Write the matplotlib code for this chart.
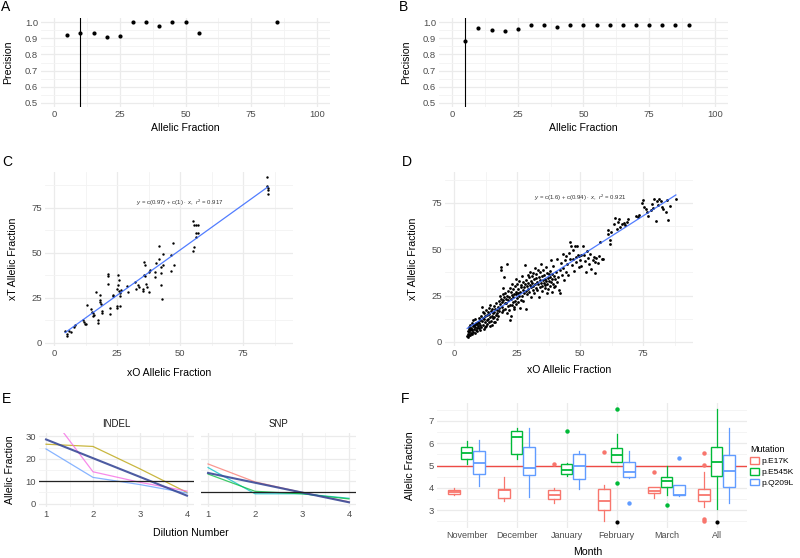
import numpy as np
import matplotlib
matplotlib.use('Agg')
import matplotlib.pyplot as plt
from matplotlib.ticker import MultipleLocator
from matplotlib.patches import Patch

plt.rcParams['font.family'] = ['Liberation Sans', 'DejaVu Sans']
plt.rcParams['mathtext.fontset'] = 'custom'
plt.rcParams['mathtext.rm'] = 'Liberation Sans'
plt.rcParams['mathtext.it'] = 'Liberation Sans:italic'

# ---- panel A / B : precision by allelic fraction
a_af = [5, 10, 15, 20, 25, 30, 35, 40, 45, 50, 55, 85]
a_prec = [0.920, 0.930, 0.935, 0.905, 0.912, 1.0, 1.0, 0.977, 1.0, 1.0, 0.930, 1.0]
a_cut = 10

b_af = [5, 10, 15, 20, 25, 30, 35, 40, 45, 50, 55, 60, 65, 70, 75, 80, 85, 90]
b_prec = [0.885, 0.965, 0.953, 0.945, 0.958, 0.982, 0.982, 0.972, 0.980, 0.980,
          0.982, 0.980, 0.980, 0.982, 0.980, 0.980, 0.980, 0.980]
b_cut = 5

# ---- panel C : xO vs xT
c_xo = [4.4, 5.0, 5.0, 5.9, 6.6, 7.9, 8.2, 11.6, 11.9, 12.3,
        12.7, 13.2, 14.5, 14.9, 15.3, 15.6, 15.9, 16.6, 17.3, 17.3,
        18.2, 18.2, 18.2, 18.5, 19.2, 19.2, 21.3, 21.3, 21.5, 22.2,
        22.2, 23.2, 23.5, 24.8, 24.8, 25.1, 25.4, 25.5, 25.6, 25.9,
        26.2, 26.2, 26.2, 26.4, 29.1, 29.5, 32.1, 32.5, 33.4, 33.8,
        35.1, 35.4, 35.7, 36.1, 35.7, 36.2, 36.5, 36.7, 37.8, 37.8,
        38.0, 40.0, 40.2, 40.4, 41.8, 41.8, 42.3, 42.3, 42.4, 42.7,
        43.3, 43.3, 46.2, 46.2, 47.3, 47.6, 55.2, 55.5, 55.5, 55.2,
        56.5, 57.3, 56.5, 57.3, 56.5, 84.3, 84.3, 84.7, 84.9, 84.9]
c_xt = [6.5, 5.2, 3.7, 6.5, 5.9, 8.9, 10.0, 12.6, 11.5, 10.7,
        10.7, 20.9, 18.9, 17.0, 16.7, 14.8, 15.4, 28.1, 13.0, 11.1,
        26.9, 24.1, 22.8, 21.9, 17.6, 16.7, 38.5, 37.0, 32.8, 19.4,
        16.3, 26.9, 25.9, 30.0, 20.7, 19.4, 32.4, 38.0, 35.2, 28.7,
        27.8, 25.9, 20.7, 29.6, 31.5, 28.1, 33.9, 30.0, 32.4, 31.1,
        28.7, 30.0, 44.8, 43.3, 38.0, 37.0, 33.0, 30.9, 28.3, 39.3,
        40.4, 36.7, 39.3, 44.4, 53.7, 46.9, 38.9, 42.0, 32.0, 24.4,
        49.6, 43.5, 49.1, 40.2, 55.6, 43.3, 67.6, 65.7, 53.1, 50.9,
        65.7, 65.7, 61.1, 61.1, 58.9, 92.2, 87.4, 86.1, 85.2, 83.0]
c_eq = r'$y$ = c(0.97) + c(1) $\cdot$ $x$,  $r^2$ = 0.917'

# ---- panel D : xO vs xT, all samples
d_xo = [5.2, 5.4, 5.5, 5.6, 5.8, 6.0, 6.1, 6.3, 6.4, 6.5,
        6.7, 6.8, 7.0, 7.1, 7.3, 7.4, 7.6, 7.7, 7.9, 8.0,
        8.2, 8.3, 8.5, 8.6, 8.8, 8.9, 9.1, 9.2, 9.4, 9.5,
        9.7, 9.8, 10.0, 10.1, 10.3, 10.4, 5.9, 6.9, 7.8, 8.7,
        10.6, 10.8, 11.0, 11.2, 11.3, 11.5, 11.7, 11.9, 12.0, 12.2,
        12.4, 12.5, 12.7, 12.9, 13.0, 13.2, 13.4, 13.5, 13.7, 13.9,
        14.0, 14.2, 14.4, 14.5, 14.7, 14.9, 15.0, 15.2, 15.4, 15.5,
        15.7, 15.9, 16.0, 16.2, 16.4, 16.5, 16.7, 16.9, 17.0, 17.2,
        17.4, 17.5, 17.7, 17.9, 12.1, 14.1, 11.6, 15.8,
        18.0, 18.2, 18.3, 18.5, 18.6, 18.7, 18.9, 19.0, 19.2, 19.3,
        19.5, 19.6, 19.8, 20.0, 20.1, 20.3, 20.4, 20.6, 20.8, 21.0,
        21.0, 21.2, 21.4, 21.5, 21.7, 21.9, 22.0, 22.2, 22.3, 22.4,
        22.5, 22.7, 22.9, 23.0, 23.2, 23.4, 23.5, 23.7, 23.9, 24.0,
        24.2, 24.4, 24.5, 24.7, 24.9, 25.0, 25.2, 25.4, 25.5, 25.7,
        25.9, 26.0, 26.2, 26.4, 26.5, 19.4, 20.9, 23.8, 24.6, 22.8,
        26.7, 26.9, 27.0, 27.2, 27.4, 27.5, 27.7, 27.9, 28.0, 28.2,
        28.4, 28.5, 28.7, 28.9, 29.0, 29.2, 29.4, 29.5, 29.7, 29.9,
        30.0, 30.2, 30.4, 30.5, 30.7, 30.9, 31.0, 31.2, 31.4, 31.5,
        31.7, 31.9, 32.0, 32.2, 32.4, 32.5, 32.7, 32.9, 33.0, 33.2,
        33.4, 33.5, 33.7, 33.9, 34.0, 34.2, 34.4, 34.5, 34.7, 34.9,
        35.0, 35.2, 35.4, 35.5, 35.7, 35.9, 36.0, 36.2, 36.4, 36.5,
        36.7, 36.9, 37.0, 37.2, 37.4, 37.5, 37.7, 37.9, 38.0, 38.2,
        38.4, 38.5, 38.7, 38.9, 39.0, 39.2, 39.4, 39.5, 39.7, 39.9,
        40.2, 40.5, 40.8, 41.0, 41.3, 41.6, 41.9, 42.2, 42.5, 42.8,
        43.1, 43.4, 43.7, 44.0, 44.3, 44.6, 44.9, 45.2, 45.5, 45.8,
        46.1, 46.4, 46.7, 47.0, 47.3, 47.6, 47.9, 48.2, 48.5, 48.8,
        49.1, 49.4, 49.7, 50.0, 50.2,
        50.5, 51.0, 51.5, 52.0, 52.5, 53.0, 53.5, 54.0, 54.5, 55.0,
        55.5, 56.0, 56.5, 57.0, 57.5, 58.0, 58.5, 59.0, 55.8, 52.8,
        61.0, 61.2, 61.8, 62.0, 62.3, 63.5, 64.0, 64.5, 65.0, 65.5,
        66.0, 66.8, 67.5, 68.0, 68.5, 69.0,
        72.0, 72.8, 73.5, 74.5, 75.0, 75.5, 76.0, 76.5, 77.0, 78.0,
        78.5, 79.0, 79.5, 80.0, 80.5, 81.0, 81.5, 82.0, 82.5, 83.0,
        84.0, 84.5, 85.0, 85.5, 88.0]
d_xt = [3.1, 4.5, 6.0, 2.5, 7.2, 5.3, 8.0, 3.8, 6.6, 9.1,
        5.0, 7.5, 4.2, 10.2, 6.3, 8.4, 5.6, 11.8, 7.0, 9.3,
        4.9, 12.5, 8.1, 6.2, 10.4, 7.6, 9.8, 5.8, 11.0, 8.7,
        13.1, 7.3, 10.1, 6.4, 12.0, 9.0, 4.0, 6.8, 8.9, 9.6,
        14.2, 8.2, 11.3, 19.0, 9.4, 13.0, 7.0, 12.2, 15.6, 10.5,
        13.8, 8.8, 17.1, 11.9, 14.5, 9.9, 16.0, 12.6, 18.5, 10.8,
        15.0, 13.2, 20.0, 11.4, 16.7, 14.0, 9.2, 17.8, 12.8, 15.5,
        19.6, 13.6, 16.4, 11.0, 18.0, 14.6, 21.0, 15.8, 12.4, 17.3,
        19.0, 14.2, 22.2, 16.8, 7.8, 8.5, 16.2, 10.6,
        18.5, 25.0, 20.3, 40.5, 38.8, 23.0, 16.2, 21.7, 19.0, 25.6,
        22.5, 17.4, 24.0, 35.0, 20.8, 26.2, 18.0, 23.4, 21.0, 42.0,
        25.0, 19.4, 27.5, 22.6, 17.0, 24.4, 20.0, 29.0, 12.0, 14.0,
        23.0, 26.8, 19.8, 25.2, 21.6, 28.4, 24.2, 18.6, 26.0, 22.2,
        30.0, 25.6, 20.5, 27.2, 23.6, 31.2, 26.4, 21.8, 28.6, 24.8,
        33.0, 18.2, 27.0, 29.8, 22.6, 29.0, 15.5, 17.5, 34.0, 31.5,
        30.5, 25.0, 35.5, 28.0, 32.4, 22.0, 29.6, 26.4, 41.5, 31.0,
        27.6, 33.6, 18.0, 30.0, 25.8, 36.0, 28.8, 32.0, 34.8, 27.0,
        30.6, 38.0, 24.0, 33.0, 29.4, 35.4, 31.8, 27.8, 37.2, 30.2,
        33.8, 26.2, 40.0, 31.4, 34.6, 29.0, 36.6, 32.6, 28.2, 38.6,
        31.0, 35.0, 24.4, 33.2, 29.6, 37.8, 32.0, 42.0, 30.4, 35.8,
        27.4, 33.4, 39.0, 31.6, 36.2, 29.2, 34.0, 30.8, 40.6, 32.8,
        26.6, 37.0, 31.2, 34.4, 28.8, 36.8, 33.0, 38.4, 30.0, 35.2,
        44.0, 32.2, 27.0, 36.4, 33.8, 31.0, 41.0, 35.6, 29.8, 34.2,
        30.0, 37.5, 32.6, 45.0, 35.0, 28.0, 39.0, 26.4, 42.6, 36.0,
        47.5, 40.0, 33.4, 44.2, 38.0, 46.5, 42.0, 36.2, 48.0, 54.0,
        44.6, 52.0, 41.5, 49.5, 45.0, 38.5, 51.6, 46.0, 43.0, 52.0,
        47.0, 40.5, 46.5, 44.0, 47.0,
        41.0, 52.0, 46.8, 43.5, 37.8, 45.5, 41.8, 47.5, 39.5, 44.0,
        46.0, 43.0, 45.5, 42.5, 46.5, 54.0, 45.0, 44.5, 37.0, 49.0,
        58.0, 60.5, 55.0, 53.0, 59.5, 63.5, 67.0, 61.0, 64.5, 66.5,
        62.0, 63.8, 64.0, 63.0, 64.5, 66.5,
        68.0, 67.5, 68.3, 75.0, 76.5, 73.0, 72.0, 70.0, 68.0, 71.0,
        74.5, 72.5, 77.0, 65.5, 76.0, 74.0, 77.0, 76.0, 73.0, 71.5,
        70.0, 76.5, 65.8, 73.5, 77.0]
d_eq = r'$y$ = c(1.6) + c(0.94) $\cdot$ $x$,  $r^2$ = 0.921'

# ---- panel E : dilution series
dilution = [1, 2, 3, 4]
indel_gold = [26.5, 25.5, 15.5, 5.0]
indel_pink = [42.0, 14.2, 9.5, 5.6]
indel_blue = [24.4, 11.7, 8.5, 4.7]
indel_cut = 10
snp_red = [17.7, 9.7, 5.0, 0.8]
snp_cyan = [16.1, 4.4, 4.4, 2.4]
snp_green = [13.2, 5.5, 4.4, 2.1]
snp_cut = 5

# ---- panel F : boxplots by month
months = ['November', 'December', 'January', 'February', 'March', 'All']
mutations = ['p.E17K', 'p.E545K', 'p.Q209L']
mut_colors = ['#F8766D', '#00BA38', '#619CFF']
# median, q1, q3, lower whisker, upper whisker
e17k_med = [3.83, 3.90, 3.68, 3.42, 3.85, 3.68]
e17k_q1 = [3.74, 3.56, 3.52, 3.02, 3.78, 3.42]
e17k_q3 = [3.90, 3.93, 3.90, 3.93, 4.02, 3.95]
e17k_lo = [3.68, 3.42, 3.30, 2.53, 3.55, 3.15]
e17k_hi = [3.98, 4.48, 4.01, 4.13, 4.05, 4.70]
e17k_out = [[], [], [5.05], [5.61], [4.72], [5.58, 5.02, 2.60, 2.50]]
e545k_med = [5.56, 6.26, 4.82, 5.46, 4.30, 5.15]
e545k_q1 = [5.31, 5.52, 4.63, 5.16, 4.05, 4.52]
e545k_q3 = [5.83, 6.53, 5.05, 5.79, 4.48, 5.82]
e545k_lo = [5.07, 5.31, 4.53, 5.16, 3.70, 3.05]
e545k_hi = [6.08, 6.67, 5.12, 6.41, 5.00, 7.55]
e545k_out = [[], [], [6.53], [7.53, 4.22], [3.22], []]
q209l_med = [5.12, 4.90, 4.97, 4.72, 3.70, 4.75]
q209l_q1 = [4.60, 4.57, 4.41, 4.48, 3.68, 4.05]
q209l_q3 = [5.64, 5.83, 5.52, 5.16, 4.12, 5.47]
q209l_lo = [4.08, 3.59, 3.93, 4.45, 3.65, 3.30]
q209l_hi = [6.16, 6.67, 5.67, 5.67, 4.12, 6.67]
q209l_out = [[], [], [], [3.33], [5.32], []]
black_month = ['February', 'All']
black_val = [2.48, 2.48]
ref_line = 5

fig = plt.figure(figsize=(8, 5.58), dpi=100)
W, H = 800, 558
TICK = 6.8
TITLE = 7.6


def px_axes(l, t, r, b):
    return fig.add_axes([l / W, 1 - b / H, (r - l) / W, (b - t) / H])


def minimal(ax):
    for s in ax.spines.values():
        s.set_visible(False)
    ax.tick_params(which='both', length=0, labelsize=TICK, labelcolor='#4d4d4d', pad=2)
    ax.grid(which='major', color='#ebebeb', lw=0.9)
    ax.grid(which='minor', color='#f3f3f3', lw=0.6)
    ax.set_axisbelow(True)


def titles(xlab, xc, yc_x, ylab, yc, xl_y):
    # axis titles placed by pixel position
    fig.text(xc / W, 1 - xl_y / H, xlab, ha='center', va='center', fontsize=TITLE)
    fig.text(yc_x / W, 1 - yc / H, ylab, ha='center', va='center', rotation=90, fontsize=TITLE)


def letter(x, y, s):
    fig.text(x / W, 1 - y / H, s, fontsize=10, va='top', ha='left')


# A and B
for l, r, let, xs, ys, cut in [(41, 330, 'A', a_af, a_prec, a_cut),
                               (439, 728, 'B', b_af, b_prec, b_cut)]:
    ax = px_axes(l, 18, r, 107)
    minimal(ax)
    ax.scatter(xs, ys, s=9, color='black', zorder=3, lw=0)
    ax.axvline(cut, color='black', lw=0.8)
    ax.set_xlim(-5, 105)
    ax.set_ylim(0.475, 1.025)
    ax.xaxis.set_major_locator(MultipleLocator(25))
    ax.xaxis.set_minor_locator(MultipleLocator(12.5))
    ax.yaxis.set_major_locator(MultipleLocator(0.1))
    ax.yaxis.set_minor_locator(MultipleLocator(0.05))
    titles('Allelic Fraction', (l + r) / 2, l - 33, 'Precision', 62, 128)
    letter(l - 40, 0, let)

# C and D
for l, r, let, xs, ys, eq, ylim, xly, ms in [(45, 293, 'C', c_xo, c_xt, c_eq, (-1.7, 95), 373, 3),
                                             (445, 693, 'D', d_xo, d_xt, d_eq, (-2.2, 91.7), 370, 4)]:
    ax = px_axes(l, 172, r, 346)
    minimal(ax)
    ax.scatter(xs, ys, s=ms, color='black', lw=0, zorder=3)
    k, m = np.polyfit(xs, ys, 1)
    fx = np.array([min(xs), max(xs)])
    ax.plot(fx, m + k * fx, color='#3366FF', lw=0.9, alpha=0.85, zorder=4)
    ax.text(50, 78, eq, fontsize=4.3, ha='center', va='center', color='#333333')
    ax.set_xlim(-3.6, 94.8)
    ax.set_ylim(*ylim)
    for a in (ax.xaxis, ax.yaxis):
        a.set_major_locator(MultipleLocator(25))
        a.set_minor_locator(MultipleLocator(12.5))
    titles('xO Allelic Fraction', (l + r) / 2, l - 32, 'xT Allelic Fraction', 259, xly)
    letter(l - 43, 155, let)

# E
facets = [('INDEL', 39, 194, [indel_gold, indel_pink, indel_blue],
           ['#B79F00', '#F564E3', '#619CFF'], indel_cut),
          ('SNP', 201, 356, [snp_red, snp_cyan, snp_green],
           ['#F8766D', '#00BFC4', '#00BA38'], snp_cut)]
for i, (name, l, r, series, cols, cut) in enumerate(facets):
    ax = px_axes(l, 433, r, 507)
    minimal(ax)
    allx, ally = [], []
    for s, c in zip(series, cols):
        ax.plot(dilution, s, color=c, lw=0.9, alpha=0.75)
        allx += dilution
        ally += s
    k, m = np.polyfit(allx, ally, 1)
    fx = np.array([1, 4])
    ax.plot(fx, m + k * fx, color='#3a4a98', lw=1.5, alpha=0.9)
    ax.axhline(cut, color='#222222', lw=0.9)
    ax.set_xlim(0.85, 4.15)
    ax.set_ylim(-1.5, 31.5)
    ax.xaxis.set_major_locator(MultipleLocator(1))
    ax.xaxis.set_minor_locator(MultipleLocator(0.5))
    ax.yaxis.set_major_locator(MultipleLocator(10))
    ax.yaxis.set_minor_locator(MultipleLocator(5))
    ax.set_title(name, fontsize=7, pad=4, color='#1a1a1a')
    if i > 0:
        ax.tick_params(labelleft=False)
titles('Dilution Number', 191, 10, 'Allelic Fraction', 470, 533)
letter(2, 392, 'E')

# F
ax = px_axes(436.7, 403, 746.7, 528)
minimal(ax)
groups = [(e17k_med, e17k_q1, e17k_q3, e17k_lo, e17k_hi, e17k_out),
          (e545k_med, e545k_q1, e545k_q3, e545k_lo, e545k_hi, e545k_out),
          (q209l_med, q209l_q1, q209l_q3, q209l_lo, q209l_hi, q209l_out)]
ax.axhline(ref_line, color='#EE4B45', lw=1.0, zorder=1)
for j, (med, q1, q3, lo, hi, out) in enumerate(groups):
    c = mut_colors[j]
    stats = [dict(med=med[i], q1=q1[i], q3=q3[i], whislo=lo[i], whishi=hi[i], fliers=out[i])
             for i in range(len(months))]
    pos = np.arange(len(months)) + (j - 1) * 0.25
    ax.bxp(stats, positions=pos, widths=0.23, showcaps=False, patch_artist=True,
           boxprops=dict(facecolor='white', edgecolor=c, lw=1.0),
           medianprops=dict(color=c, lw=1.3),
           whiskerprops=dict(color=c, lw=0.9),
           flierprops=dict(marker='o', markerfacecolor=c, markeredgecolor='none', markersize=3.2),
           manage_ticks=False, zorder=2)
ax.scatter([months.index(mo) for mo in black_month], black_val, s=9, color='black', lw=0, zorder=3)
ax.set_xlim(-0.6, len(months) - 0.4)
ax.set_ylim(2.2, 7.8)
ax.set_xticks(range(len(months)))
ax.set_xticklabels(months)
ax.tick_params(axis='x', labelsize=6.5)
ax.yaxis.set_major_locator(MultipleLocator(1))
ax.yaxis.set_minor_locator(MultipleLocator(0.5))
ax.grid(which='minor', axis='x', visible=False)
titles('Month', 588, 410, 'Allelic Fraction', 466, 552)
handles = [Patch(facecolor='white', edgecolor=c, lw=1.0) for c in mut_colors]
fig.legend(handles, mutations, title='Mutation', loc='upper left',
           bbox_to_anchor=(747 / W, 1 - 442 / H), frameon=False, fontsize=6.0,
           title_fontsize=6.4, handlelength=1.0, handleheight=0.9, labelspacing=0.3,
           handletextpad=0.3, borderpad=0.2, borderaxespad=0.2, alignment='left')
letter(401, 392, 'F')

fig.savefig('out.png', dpi=100)
